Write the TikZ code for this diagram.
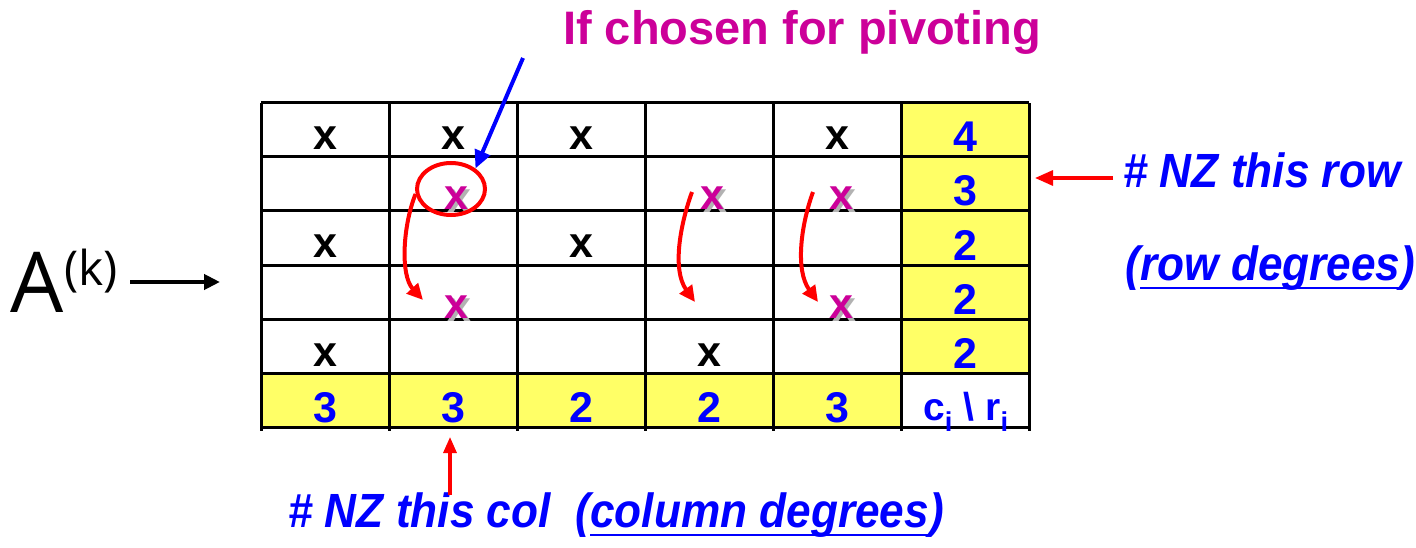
\documentclass[tikz,border=0pt]{standalone}
\usepackage{fontspec}
\setmainfont{Liberation Sans}
\newfontfamily\opensans{Open Sans}
\newfontfamily\notefont[FakeStretch=0.92]{Liberation Sans}
\usetikzlibrary{arrows.meta,shapes.geometric}
\definecolor{magx}{HTML}{CC0099}
\definecolor{yel}{HTML}{FFFF66}
\definecolor{bl}{HTML}{0000FF}
\begin{document}
\begin{tikzpicture}[x=1pt,y=-1pt,
  cellfont/.style={font=\fontsize{43}{43}\selectfont\bfseries, inner sep=0, anchor=base},
  blackx/.style={cellfont},
  pivx/.style={cellfont, text=magx},
  shadowx/.style={cellfont, text=black!30},
  deg/.style={cellfont, text=bl},
  gridline/.style={line width=3},
  redarr/.style={red, line width=4, -{Triangle[length=16,width=15]}},
  note/.style={font=\notefont\fontsize{48}{48}\selectfont\bfseries\itshape, text=bl, inner sep=0, anchor=base west}
]
\useasboundingbox (0,0) rectangle (1416,548);

% yellow degree cells
\fill[yel] (901,103) rectangle (1029,373);
\fill[yel] (261,373) rectangle (901,427);

% grid
\foreach \x in {261,389,...,1029} \draw[gridline] (\x,103) -- (\x,431);
\foreach \y in {103,157,...,427} \draw[gridline] (261,\y) -- (1029,\y);

% black x entries
\foreach \c/\r [count=\n] in {325/150,453/150,581/150,837/150,325/258,581/258,325/366,709/366}
  \node[blackx] (bx\n) at (\c,\r) {x};

% pivot candidates (magenta with shadow)
\foreach \c/\r [count=\n] in {456/210,712/210,841/210,456/318,841/318}{
  \node[shadowx] (sx\n) at (\c+3,\r+3) {x};
  \node[pivx] (px\n) at (\c,\r) {x};
}

% row degrees
\foreach \v/\r [count=\n] in {4/152,3/206,2/260,2/314,2/368}
  \node[deg] (rd\n) at (965,\r) {\v};
% column degrees
\foreach \v/\c [count=\n] in {3/325,3/453,2/581,2/709,3/837}
  \node[deg] (cd\n) at (\c,422) {\v};
\node[deg, font=\fontsize{39}{39}\selectfont\bfseries] (corner) at (966,420) {c\textsubscript{i} \textbackslash{} r\textsubscript{i}};

% pivot circle
\node[draw=red, line width=4, ellipse, minimum width=68, minimum height=52, inner sep=0] (circ) at (451,189) {};

% title and blue arrow
\node[anchor=base west, inner sep=0, text=magx, font=\fontsize{47}{47}\selectfont\bfseries] (title) at (563,45) {If chosen for pivoting};
\coordinate (bs) at (523,58);
\draw[blue, line width=4, -{Triangle[length=18,width=16]}] (bs) -- (circ.40);

% red curved arrows
\coordinate (e1) at (423,300);
\draw[redarr] (circ.188) .. controls (403,225) and (400,275) .. (e1);
\coordinate (s2) at (692,192);
\coordinate (e2) at (695,302);
\draw[redarr] (s2) .. controls (680,225) and (672,270) .. (e2);
\coordinate (s3) at (813,192);
\coordinate (e3) at (818,302);
\draw[redarr] (s3) .. controls (801,225) and (795,270) .. (e3);

% A^(k)
\node[anchor=base west, inner sep=0, font=\opensans\fontsize{84}{84}\selectfont] (A) at (10,312) {A};
\node[anchor=base west, inner sep=0, font=\opensans\fontsize{48}{48}\selectfont] (k) at (64,285) {(k)};
\coordinate (as) at (130,282);
\coordinate (ae) at (220,282);
\draw[line width=4.5, -{Triangle[length=16,width=15]}] (as) -- (ae);

% row note
\node[note] (rownote) at (1123,188) {\# NZ this row};
\node[note] (rp1) at (1125,280) {(};
\node[note] (rowdeg) at (rp1.base east) {row degrees};
\node[note] (rp2) at (rowdeg.base east) {)};
\draw[bl, line width=2.4] ([yshift=-8]rowdeg.base west) -- ([yshift=-8]rowdeg.base east);
\coordinate (rtip) at (1035,178);
\draw[red, line width=3.2, -{Triangle[length=18,width=15]}] ([xshift=-10]rownote.west |- rtip) -- (rtip);

% column note
\node[note] (colnote) at (288,527) {\# NZ this col};
\node[note] (cp1) at ([xshift=24]colnote.base east) {(};
\node[note] (coldeg) at (cp1.base east) {column degrees};
\node[note] (cp2) at (coldeg.base east) {)};
\draw[bl, line width=2.4] ([yshift=-8]coldeg.base west) -- ([yshift=-8]coldeg.base east);
\coordinate (ctip) at (450,437);
\coordinate (ctail) at (450,495);
\draw[red, line width=3.2, -{Triangle[length=16,width=13]}] (ctail) -- (ctip);
\end{tikzpicture}
\end{document}
